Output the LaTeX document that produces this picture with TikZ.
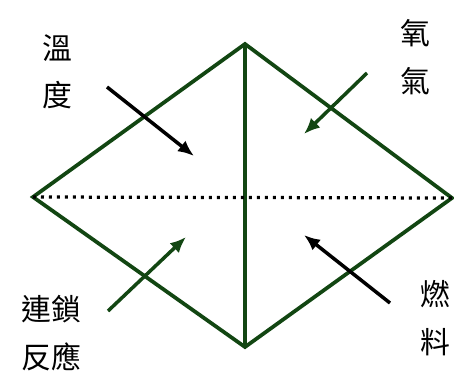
\documentclass[tikz,border=0pt]{standalone}
\usepackage{fontspec}
\newfontfamily\cjk{Noto Sans CJK TC}
\usetikzlibrary{arrows.meta}
\definecolor{edgegreen}{RGB}{18,70,18}
\tikzset{
  edge/.style={draw=edgegreen, line width=0.075cm},
  push/.style={line width=0.07cm, -{Latex[length=0.32cm,width=0.27cm]}},
  word/.style={align=center, font=\cjk\fontsize{17}{27}\selectfont, inner sep=0pt}
}
\begin{document}
\begin{tikzpicture}[x=0.02cm, y=-0.02cm]
\useasboundingbox (0,0) rectangle (454,372);
% corners of the diamond
\coordinate (top) at (245,44);
\coordinate (left) at (33,197);
\coordinate (right) at (452,198);
\coordinate (bottom) at (245,347);
\draw[edge, line join=miter] (top) -- (right) -- (bottom) -- (left) -- cycle;
\draw[edge] (top) -- (bottom);
\draw[draw=black, line width=0.065cm, dash pattern=on 0.06cm off 0.1cm] (left) -- (right);

% labels
\node[word] (temp) at (57,72) {溫\\度};
\node[word] (oxy) at (415,57) {氧\\氣};
\node[word] (chain) at (51,333) {連鎖\\反應};
\node[word] (fuel) at (435,318) {燃\\料};

% arrow ends
\coordinate (t1) at (107,87);   \coordinate (t2) at (194,156);
\coordinate (o1) at (367,73);   \coordinate (o2) at (304,134);
\coordinate (c1) at (108,311);  \coordinate (c2) at (186,237);
\coordinate (f1) at (390,303);  \coordinate (f2) at (304,235);
\draw[push, black] (t1) -- (t2);
\draw[push, edgegreen] (o1) -- (o2);
\draw[push, edgegreen] (c1) -- (c2);
\draw[push, black] (f1) -- (f2);
\end{tikzpicture}
\end{document}
